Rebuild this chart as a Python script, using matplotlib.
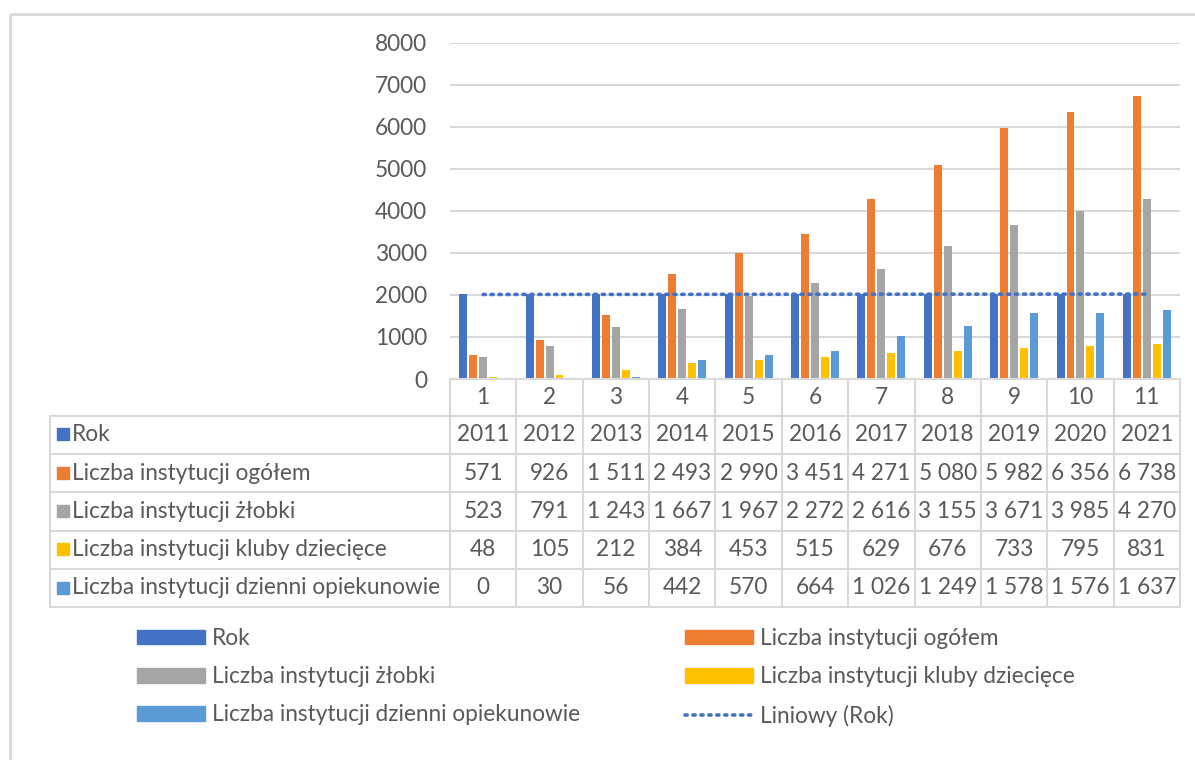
import matplotlib
matplotlib.use("Agg")
import matplotlib.pyplot as plt
from matplotlib.patches import Rectangle
from matplotlib.lines import Line2D

plt.rcParams['font.family'] = ['Lato', 'DejaVu Sans']

# dane
kategorie = [1, 2, 3, 4, 5, 6, 7, 8, 9, 10, 11]
rok = [2011, 2012, 2013, 2014, 2015, 2016, 2017, 2018, 2019, 2020, 2021]
ogolem = [571, 926, 1511, 2493, 2990, 3451, 4271, 5080, 5982, 6356, 6738]
zlobki = [523, 791, 1243, 1667, 1967, 2272, 2616, 3155, 3671, 3985, 4270]
kluby = [48, 105, 212, 384, 453, 515, 629, 676, 733, 795, 831]
opiekunowie = [0, 30, 56, 442, 570, 664, 1026, 1249, 1578, 1576, 1637]

nazwy = ['Rok', 'Liczba instytucji ogółem', 'Liczba instytucji żłobki',
         'Liczba instytucji kluby dziecięce', 'Liczba instytucji dzienni opiekunowie']
serie = [rok, ogolem, zlobki, kluby, opiekunowie]
kolory = ['#4472C4', '#ED7D31', '#A5A5A5', '#FFC000', '#5B9BD5']
yticks = [0, 1000, 2000, 3000, 4000, 5000, 6000, 7000, 8000]

W, H = 1195, 760
TXT = '#595959'
GRID = '#D9D9D9'
FS = 16.3

fig = plt.figure(figsize=(W / 100, H / 100), dpi=100)

# wykres slupkowy
x0, x1 = 450, 1180
y_top, y_bot = 42.7, 379
ax = fig.add_axes([x0 / W, 1 - y_bot / H, (x1 - x0) / W, (y_bot - y_top) / H])
bw = 0.12
step = 0.15
for i, (s, c) in enumerate(zip(serie, kolory)):
    xs = [k + (i - 2) * step for k in kategorie]
    ax.bar(xs, s, width=bw, color=c, zorder=3)
# linia trendu (Liniowy (Rok))
ax.plot(kategorie, rok, color='#4472C4', linestyle=(0, (0.6, 1.6)), linewidth=2.6,
        dash_capstyle='round', zorder=4)
ax.set_xlim(0.5, 11.5)
ax.set_ylim(0, 8000)
ax.set_yticks(yticks)
ax.set_yticklabels([str(v) for v in yticks], fontsize=FS, color=TXT)
ax.tick_params(axis='y', length=0, pad=16.5)
ax.set_xticks([])
ax.grid(axis='y', color=GRID, linewidth=1.5, zorder=0)
for sp in ax.spines.values():
    sp.set_visible(False)

# tabela danych
tab = fig.add_axes([0, 0, 1, 1])
tab.set_xlim(0, W)
tab.set_ylim(H, 0)
tab.axis('off')
cw = (x1 - x0) / len(kategorie)
lab_x = 50
rows = [379, 415.5, 453.8, 492.2, 530.5, 568.8, 607.2]
lw = 1.5
# linie poziome
tab.plot([x0, x1], [rows[0], rows[0]], color=GRID, lw=lw)
for r in rows[1:]:
    tab.plot([lab_x, x1], [r, r], color=GRID, lw=lw)
# linie pionowe
for j in range(len(kategorie) + 1):
    tab.plot([x0 + j * cw] * 2, [rows[0], rows[-1]], color=GRID, lw=lw)
tab.plot([lab_x, lab_x], [rows[1], rows[-1]], color=GRID, lw=lw)

def fmt(v):
    return f'{v:,}'.replace(',', ' ')

for j, k in enumerate(kategorie):
    tab.text(x0 + (j + 0.5) * cw, (rows[0] + rows[1]) / 2, str(k), ha='center', va='center',
             fontsize=FS, color=TXT)
for i, (nazwa, s, c) in enumerate(zip(nazwy, serie, kolory)):
    yc = (rows[i + 1] + rows[i + 2]) / 2
    tab.add_patch(Rectangle((57, yc - 6.5), 12, 12, color=c))
    tab.text(72, yc, nazwa, ha='left', va='center', fontsize=FS, color=TXT)
    for j, v in enumerate(s):
        etykieta = str(v) if i == 0 else fmt(v)
        tab.text(x0 + (j + 0.5) * cw, yc, etykieta, ha='center', va='center',
                 fontsize=FS, color=TXT)

# legenda
uchwyty = [Rectangle((0, 0), 1, 1, color=c) for c in kolory]
uchwyty.append(Line2D([], [], color='#4472C4', linestyle=(0, (0.6, 1.6)), linewidth=2.6,
                      dash_capstyle='round'))
etykiety = nazwy + ['Liniowy (Rok)']
kolejnosc = [0, 2, 4, 1, 3, 5]
leg = tab.legend([uchwyty[k] for k in kolejnosc], [etykiety[k] for k in kolejnosc],
                 ncol=2, loc='upper left', bbox_to_anchor=(137 / W, 1 - 628 / H),
                 frameon=False, fontsize=FS, handlelength=3.0, handleheight=0.62,
                 handletextpad=0.3, labelspacing=0.76, columnspacing=4.65,
                 labelcolor=TXT, borderaxespad=0, borderpad=0)

# ramka wykresu
tab.add_patch(Rectangle((10, 13.5), W, H, fill=False, edgecolor=GRID, lw=2))

fig.savefig('out.png', dpi=100)
